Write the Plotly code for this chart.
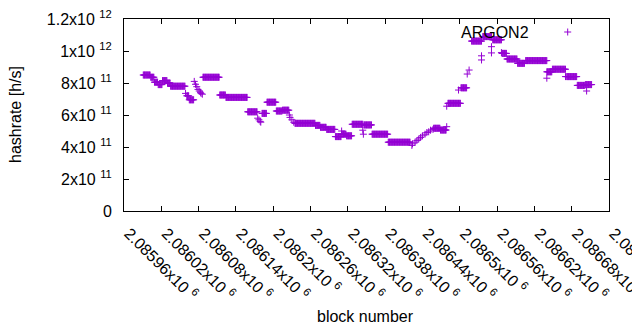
import plotly.graph_objects as go

# ---- data (block number, hashrate in h/s) ----
# plateaus: consecutive blocks sharing one hashrate estimate
plateau_first = [2085991, 2086003, 2086009, 2086015, 2086022, 2086030, 2086035, 2086061, 2086065,
                 2086087, 2086114, 2086124, 2086159, 2086182, 2086190, 2086205, 2086215, 2086235,
                 2086268, 2086276, 2086286, 2086300, 2086310, 2086318, 2086327, 2086346, 2086359,
                 2086385, 2086458, 2086469, 2086481, 2086502, 2086519, 2086537, 2086553, 2086568,
                 2086576, 2086593, 2086606, 2086641, 2086649, 2086672, 2086689, 2086702]
plateau_last = [2086002, 2086008, 2086014, 2086021, 2086029, 2086034, 2086058, 2086064, 2086072,
                2086113, 2086123, 2086158, 2086174, 2086189, 2086204, 2086214, 2086225, 2086267,
                2086275, 2086285, 2086299, 2086309, 2086317, 2086326, 2086344, 2086358, 2086384,
                2086420, 2086468, 2086478, 2086501, 2086511, 2086535, 2086551, 2086567, 2086575,
                2086592, 2086604, 2086640, 2086648, 2086670, 2086688, 2086701, 2086712]
plateau_rate = [8.5e11, 8.36e11, 8.05e11, 7.9e11, 8.15e11, 8.0e11, 7.8e11, 7.2e11, 6.95e11,
                8.36e11, 7.25e11, 7.1e11, 6.2e11, 6.1e11, 6.8e11, 6.25e11, 6.3e11, 5.48e11,
                5.35e11, 5.23e11, 5.1e11, 4.65e11, 4.8e11, 4.7e11, 5.42e11, 5.38e11, 4.8e11,
                4.3e11, 5.17e11, 5.06e11, 6.73e11, 7.7e11, 10.62e11, 10.9e11, 10.7e11, 9.85e11,
                9.5e11, 9.23e11, 9.4e11, 8.7e11, 8.86e11, 8.4e11, 7.85e11, 7.9e11]

# isolated blocks
single_block = [2086059, 2086073, 2086075, 2086077, 2086079, 2086081, 2086083, 2086084, 2086086,
                2086175, 2086177, 2086179, 2086180,
                2086226, 2086227, 2086230, 2086233,
                2086310, 2086344, 2086345,
                2086423, 2086424, 2086428, 2086431, 2086434, 2086437, 2086440, 2086444,
                2086447, 2086450, 2086453, 2086457,
                2086479, 2086479, 2086498, 2086512, 2086515,
                2086535, 2086535, 2086551, 2086551, 2086567,
                2086640, 2086640, 2086670, 2086704]
single_rate = [7.35e11, 8.1e11, 7.92e11, 7.77e11, 7.6e11, 7.5e11, 7.42e11, 7.35e11, 7.3e11,
               5.8e11, 5.7e11, 5.6e11, 5.55e11,
               6.0e11, 5.85e11, 5.7e11, 5.55e11,
               5.0e11, 5.05e11, 4.8e11,
               4.1e11, 4.2e11, 4.3e11, 4.4e11, 4.5e11, 4.6e11, 4.7e11, 4.8e11,
               4.9e11, 4.95e11, 5.05e11, 5.1e11,
               5.27e11, 6.55e11, 7.56e11, 8.56e11, 8.81e11,
               9.7e11, 9.44e11, 10.27e11, 9.88e11, 9.9e11,
               8.7e11, 8.3e11, 8.4e11, 7.5e11]

x_tick_vals = [2085960, 2086020, 2086080, 2086140, 2086200, 2086260, 2086320,
               2086380, 2086440, 2086500, 2086560, 2086620, 2086680, 2086740]
x_tick_text = ["2.08596x10 <sup>6</sup>", "2.08602x10 <sup>6</sup>", "2.08608x10 <sup>6</sup>",
               "2.08614x10 <sup>6</sup>", "2.0862x10 <sup>6</sup>", "2.08626x10 <sup>6</sup>",
               "2.08632x10 <sup>6</sup>", "2.08638x10 <sup>6</sup>", "2.08644x10 <sup>6</sup>",
               "2.0865x10 <sup>6</sup>", "2.08656x10 <sup>6</sup>", "2.08662x10 <sup>6</sup>",
               "2.08668x10 <sup>6</sup>", "2.08674x10 <sup>6</sup>"]
y_tick_vals = [0, 2e11, 4e11, 6e11, 8e11, 1e12, 1.2e12]
y_tick_text = ["0", "2x10 <sup>11</sup>", "4x10 <sup>11</sup>", "6x10 <sup>11</sup>",
               "8x10 <sup>11</sup>", "1x10 <sup>12</sup>", "1.2x10 <sup>12</sup>"]

series_name = "ARGON2"
x_title = "block number"
y_title = "hashrate [h/s]"

# ---- build point lists ----
xs, ys = [], []
for a, b, r in zip(plateau_first, plateau_last, plateau_rate):
    for blk in range(a, b + 1):
        xs.append(blk)
        ys.append(r)
xs += single_block
ys += single_rate

PURPLE = "#9400d3"
FONT = "Liberation Sans, Arial, sans-serif"

# plot area in page pixels: x 124..609, y 19..211 (page body has an 8px margin)
PL, PR, PT, PB = 124, 609, 19, 211
PW, PH = PR - PL, PB - PT


def px(xp):
    return (xp - PL) / PW


def py(yp):
    return (PB - yp) / PH


fig = go.Figure()
fig.add_trace(go.Scatter(
    x=xs, y=ys, mode="markers", name=series_name, showlegend=False,
    marker=dict(symbol="cross-thin", size=5, color=PURPLE,
                line=dict(color=PURPLE, width=1)),
))

axis_common = dict(
    showline=True, linecolor="black", linewidth=1, mirror="allticks",
    ticks="inside", ticklen=5, tickcolor="black", tickwidth=1,
    showgrid=False, zeroline=False, ticklabeloverflow="allow",
    tickfont=dict(family=FONT, size=16, color="black"),
)

fig.update_layout(
    width=640, height=330,
    margin=dict(l=PL - 8, r=640 - (PR - 8), t=PT - 8, b=330 - (PB - 8), autoexpand=False),
    paper_bgcolor="white", plot_bgcolor="white",
    showlegend=False,
    xaxis=dict(range=[2085960, 2086740], tickmode="array", tickvals=x_tick_vals,
               ticktext=x_tick_text, tickangle=45, ticklabelstandoff=6, ticklabelshift=5,
               **axis_common),
    yaxis=dict(range=[0, 1.2e12], tickmode="array", tickvals=y_tick_vals,
               ticktext=y_tick_text, ticklabelstandoff=8, **axis_common),
    annotations=[
        dict(text=x_title, xref="paper", yref="paper", x=px(365), y=py(316),
             xanchor="center", yanchor="middle", showarrow=False,
             font=dict(family=FONT, size=16, color="black")),
        dict(text=y_title, xref="paper", yref="paper", x=px(15), y=0.5,
             xanchor="center", yanchor="middle", textangle=-90, showarrow=False,
             font=dict(family=FONT, size=16, color="black")),
        dict(text=series_name, xref="paper", yref="paper", x=px(531),
             y=py(32), xanchor="right", yanchor="middle", showarrow=False,
             font=dict(family=FONT, size=16, color="black")),
    ],
    shapes=[
        dict(type="line", xref="paper", yref="paper",
             x0=px(564.2), x1=px(571.2), y0=py(32), y1=py(32),
             line=dict(color=PURPLE, width=1)),
        dict(type="line", xref="paper", yref="paper",
             x0=px(567.7), x1=px(567.7), y0=py(28.5), y1=py(35.5),
             line=dict(color=PURPLE, width=1)),
    ],
)

fig.write_html("out.html")
